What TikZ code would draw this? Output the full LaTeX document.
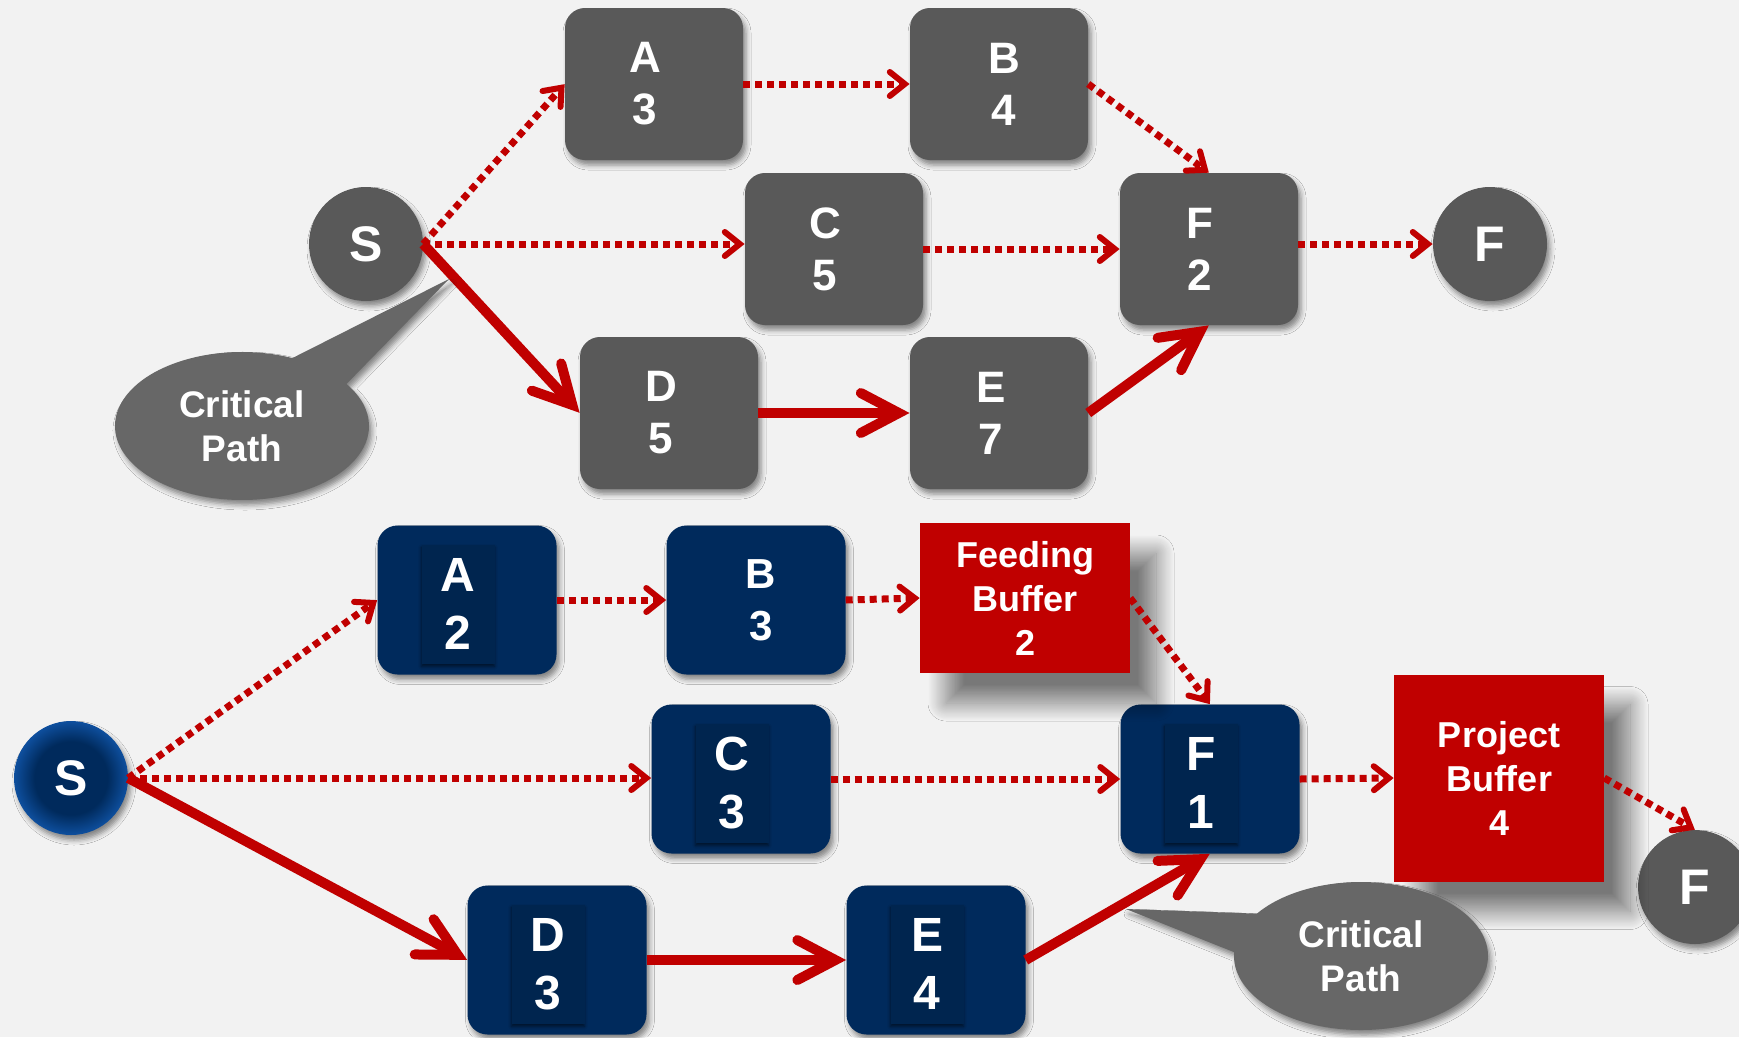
\documentclass[tikz,border=0pt]{standalone}
\usepackage{fontspec}
\setmainfont{Liberation Sans}
\usetikzlibrary{calc,shadows,shadows.blur,shapes.callouts,shapes.geometric}

\definecolor{bg}{HTML}{F2F2F2}
\definecolor{boxgray}{HTML}{595959}
\definecolor{callgray}{HTML}{676767}
\definecolor{navy}{HTML}{002A5C}
\definecolor{navystrip}{HTML}{00254F}
\definecolor{edgeblue}{HTML}{0E4F9E}
\definecolor{cpred}{HTML}{C00000}

\pgfdeclareradialshading{startball}{\pgfpoint{0bp}{0bp}}{%
  color(0bp)=(navy); color(16bp)=(navy); color(25bp)=(edgeblue); color(50bp)=(edgeblue)}

% two-line label, nudged sideways by #1
\newcommand\twoline[3]{\hspace*{#1}#2\\\hspace*{#1}#3}

% connector with an open chevron head:
% #1 shaft style, #2 head style, #3 apex set-back, #4 head length, #5 head half-width,
% #6 start, #7 end
\newcommand\chevlink[7]{%
  \path (#7) coordinate (tipP);
  \path ($(tipP)!#3!(#6)$) coordinate (apexP);
  \path ($(apexP)!#4!(#6)$) coordinate (baseP);
  \draw[#1] (#6) -- (apexP);
  \draw[#2] ($(baseP)!#5!90:(apexP)$) -- (apexP) -- ($(baseP)!#5!-90:(apexP)$);
}
\newcommand\dotlink[2]{\chevlink{dotline}{dothead}{5pt}{15pt}{12pt}{#1}{#2}}
\newcommand\solidlink[2]{\chevlink{solidline}{solidhead}{11pt}{38pt}{20pt}{#1}{#2}}

\tikzset{
  boxtext/.style={text=white, align=center, inner sep=0pt,
    font=\bfseries\fontsize{44}{52}\selectfont},
  smallshadow/.style={blur shadow={shadow xshift=3pt, shadow yshift=-5pt,
    shadow blur radius=5pt, shadow opacity=45}},
  graybox/.style={boxtext, rounded corners=20pt, fill=boxgray,
    minimum width=178pt, minimum height=152pt, smallshadow},
  navybox/.style={graybox, fill=navy, minimum width=179pt, minimum height=149pt},
  letterstrip/.style={boxtext, fill=navystrip, minimum width=73pt, minimum height=119pt,
    font=\bfseries\fontsize{48}{58}\selectfont,
    blur shadow={shadow xshift=0pt, shadow yshift=-3pt, shadow blur radius=3pt, shadow opacity=55}},
  endcircle/.style={boxtext, circle, fill=boxgray, minimum size=114pt,
    font=\bfseries\fontsize{50}{60}\selectfont, smallshadow},
  bufferbox/.style={boxtext, fill=cpred, font=\bfseries\fontsize{36}{44}\selectfont,
    blur shadow={shadow xshift=26pt, shadow yshift=-30pt, shadow blur radius=18pt,
      shadow blur steps=30, shadow opacity=50}},
  cpcallout/.style={boxtext, ellipse callout, fill=callgray, minimum width=254pt,
    minimum height=148pt, callout pointer arc=32,
    font=\bfseries\fontsize{37}{44}\selectfont, smallshadow},
  dotline/.style={draw=cpred, line width=7pt, dash pattern=on 7pt off 5pt},
  dothead/.style={draw=cpred, line width=6pt, line cap=round, line join=miter},
  solidline/.style={draw=cpred, line width=10pt},
  solidhead/.style={draw=cpred, line width=10pt, line cap=round, line join=miter}
}

\begin{document}
\begin{tikzpicture}[x=1pt, y=-1pt]
  \useasboundingbox (0,0) rectangle (1739,1037);
  \clip (0,0) rectangle (1739,1037);
  \fill[bg] (0,0) rectangle (1739,1037);

  % ---------- plain network ----------
  \node[endcircle] (S)    at (366,244)  {S};
  \node[endcircle] (Fend) at (1490,244) {F};
  \node[graybox] (A)  at (654,84)   {\twoline{-18pt}{A}{3}};
  \node[graybox] (B)  at (999,84)   {\twoline{10pt}{B}{4}};
  \node[graybox] (C)  at (834,249)  {\twoline{-18pt}{C}{5}};
  \node[graybox] (F2) at (1209,249) {\twoline{-18pt}{F}{2}};
  \node[graybox] (D)  at (669,413)  {\twoline{-16pt}{D}{5}};
  \node[graybox] (E)  at (999,413)  {\twoline{-16pt}{E}{7}};

  \coordinate (Cin)  at (S.east -| C.west);
  \coordinate (F2out) at (F2.east |- Fend);

  \dotlink{S.east}{A.west}
  \dotlink{A.east}{B.west}
  \dotlink{B.east}{F2.north}
  \dotlink{S.east}{Cin}
  \dotlink{C.east}{F2.west}
  \dotlink{F2out}{Fend.west}
  \solidlink{S.east}{D.west}
  \solidlink{D.east}{E.west}
  \solidlink{E.east}{F2.south}

  \node[cpcallout, callout absolute pointer={(449,279)}] (cp1) at (242,426) {Critical\\Path};

  % ---------- network with buffers ----------
  \shade[shading=startball, blur shadow={shadow xshift=3pt, shadow yshift=-5pt,
    shadow blur radius=5pt, shadow opacity=45}] (71,778) circle (57pt);
  \node[boxtext, circle, minimum size=114pt, font=\bfseries\fontsize{50}{60}\selectfont] (Sb) at (71,778) {S};
  \node[endcircle] (Fb) at (1695,887) {F};

  \node[navybox] (A2) at (467,600) {};
  \node[letterstrip] (A2t) at ([shift={(-9,4)}]A2.center) {A\\2};
  \node[navybox, font=\bfseries\fontsize{42}{52}\selectfont] (B3) at (756,600) {\twoline{10pt}{B}{3}};
  \node[navybox] (C3) at (741,779) {};
  \node[letterstrip] (C3t) at ([shift={(-9,4)}]C3.center) {C\\3};
  \node[navybox] (F1) at (1210,779) {};
  \node[letterstrip] (F1t) at ([shift={(-9,4)}]F1.center) {F\\1};
  \node[navybox] (D3) at (557,960) {};
  \node[letterstrip] (D3t) at ([shift={(-9,4)}]D3.center) {D\\3};
  \node[navybox] (E4) at (936,960) {};
  \node[letterstrip] (E4t) at ([shift={(-9,4)}]E4.center) {E\\4};

  \node[bufferbox, minimum width=210pt, minimum height=150pt] (FB) at (1025,598) {Feeding\\Buffer\\2};
  \node[bufferbox, minimum width=210pt, minimum height=207pt] (PB) at (1499,778) {Project\\Buffer\\4};

  \coordinate (C3in) at (Sb.east -| C3.west);

  \dotlink{Sb.east}{A2.west}
  \dotlink{A2.east}{B3.west}
  \dotlink{B3.east}{FB.west}
  \dotlink{FB.east}{F1.north}
  \dotlink{Sb.east}{C3in}
  \dotlink{C3.east}{F1.west}
  \dotlink{F1.east}{PB.west}
  \dotlink{PB.east}{Fb.north}
  \solidlink{Sb.east}{D3.west}
  \solidlink{D3.east}{E4.west}
  \solidlink{E4.east}{F1.south}

  \node[cpcallout, callout absolute pointer={(1126,909)}] (cp2) at (1361,956) {Critical\\Path};
\end{tikzpicture}
\end{document}
